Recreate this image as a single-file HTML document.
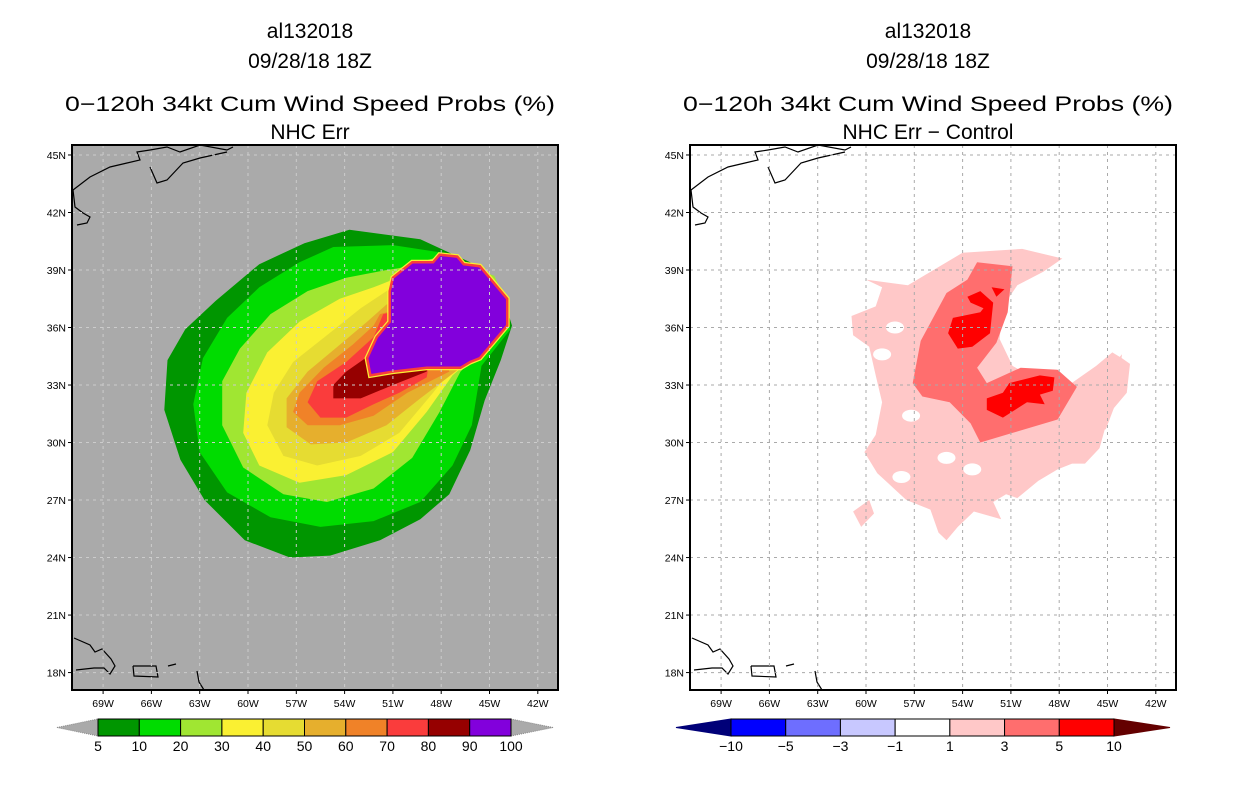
<!DOCTYPE html>
<html><head><meta charset="utf-8"><style>
html,body{margin:0;padding:0;background:#fff;}
svg{display:block;font-family:"Liberation Sans",sans-serif;}
</style></head><body>
<svg id="root" width="1236" height="800" viewBox="0 0 1236 800">
<g id="left"></g>
<g id="right"></g>
</svg>
<script>
// ---- data ----
const lonTicks = [-69,-66,-63,-60,-57,-54,-51,-48,-45,-42];
const latTicks = [18,21,24,27,30,33,36,39,42,45];
const probLevels = ["5","10","20","30","40","50","60","70","80","90","100"];
const probColors = ["#009600","#00dc00","#a0e632","#faf032","#e6dc32","#e6af2d","#f08228","#fa3c3c","#960000","#8200dc"];
const diffLevels = ["-10","-5","-3","-1","1","3","5","10"];
const diffColors = ["#0000ff","#6e6eff","#c8c8ff","#ffffff","#ffc8c8","#ff6e6e","#ff0000"];
// probability contours [lon,lat]
const p5 = [[-53.7,41.1],[-49.3,40.6],[-46.2,39.4],[-44.3,38.0],[-43.6,36.1],[-44.3,34.3],[-45.3,32.2],[-46.2,29.6],[-47.5,27.3],[-49.3,26.0],[-51.8,24.9],[-54.9,24.1],[-57.4,24.0],[-60.2,24.9],[-62.7,27.0],[-64.2,29.1],[-65.2,31.7],[-65.0,34.3],[-63.9,35.9],[-62.0,37.4],[-59.3,39.3],[-56.5,40.4]];
const p10 = [[-56.8,39.4],[-54.7,40.2],[-51.0,40.3],[-47.9,39.9],[-44.3,38.0],[-43.7,35.9],[-45.5,34.0],[-46.1,30.9],[-47.3,28.8],[-49.3,26.9],[-52.2,25.9],[-55.5,25.6],[-58.6,26.1],[-61.3,27.4],[-63.0,29.5],[-63.4,32.0],[-62.8,34.4],[-61.3,36.5],[-59.3,38.1]];
const p20 = [[-50.6,39.1],[-48.1,39.7],[-44.7,38.7],[-43.9,37.2],[-44.3,35.9],[-46.8,33.7],[-48.1,31.6],[-49.8,29.2],[-52.2,27.6],[-55.1,26.9],[-57.8,27.3],[-60.3,28.7],[-61.6,30.9],[-61.6,33.2],[-60.5,34.9],[-58.6,36.7],[-56.3,37.9],[-53.9,38.6],[-51.4,39.0]];
const p30 = [[-51.0,38.5],[-48.7,39.4],[-45.6,39.0],[-44.3,36.9],[-46.2,34.3],[-47.3,33.5],[-48.9,31.6],[-51.0,29.5],[-53.9,28.3],[-56.8,27.9],[-59.3,28.8],[-60.3,30.5],[-60.1,32.6],[-58.8,34.7],[-56.8,36.3],[-54.3,37.5],[-52.2,38.1]];
const p40 = [[-51.4,37.9],[-49.3,38.5],[-46.2,37.4],[-47.5,33.7],[-48.5,32.6],[-50.6,30.5],[-53.0,29.3],[-55.7,28.8],[-57.8,29.3],[-58.8,30.9],[-58.4,32.6],[-57.2,34.2],[-55.1,35.6],[-53.0,37.0]];
const p50 = [[-51.4,37.2],[-48.7,38.0],[-46.8,33.9],[-49.3,32.3],[-51.4,30.9],[-53.9,30.0],[-56.1,29.9],[-57.6,30.8],[-57.6,32.3],[-56.3,33.7],[-54.3,35.1],[-52.6,36.3]];
const p60 = [[-51.8,36.7],[-48.7,37.4],[-47.5,33.7],[-50.1,32.6],[-52.2,31.4],[-54.3,30.9],[-56.3,30.9],[-57.2,31.6],[-56.8,32.6],[-55.3,33.9],[-53.5,35.1],[-52.2,36.1]];
const p70 = [[-51.6,36.7],[-48.1,37.4],[-48.9,33.4],[-50.6,32.6],[-52.2,32.0],[-53.9,31.3],[-55.5,31.3],[-56.3,32.1],[-55.7,33.2],[-53.9,34.2],[-52.2,35.5]];
const p80 = [[-51.2,36.5],[-48.1,37.4],[-48.9,33.7],[-51.0,33.0],[-53.0,32.3],[-54.7,32.3],[-54.7,33.0],[-53.9,33.7],[-52.2,34.7]];
const p90 = [[-51.0,38.6],[-49.8,39.4],[-48.5,39.4],[-48.1,39.8],[-47.0,39.7],[-46.6,39.3],[-45.6,39.2],[-43.9,37.5],[-43.9,36.1],[-45.6,34.4],[-46.2,34.2],[-46.8,33.9],[-48.9,33.9],[-51.0,33.7],[-52.4,33.5],[-52.6,34.4],[-52.0,35.5],[-51.2,36.3],[-51.2,37.9]];
// difference contours [lon,lat]
const d1 = [[-57.4,38.2],[-54.0,39.9],[-50.3,40.1],[-47.8,39.6],[-49.0,38.9],[-50.6,38.2],[-51.5,37.1],[-51.7,35.4],[-50.9,34.0],[-49.4,33.3],[-47.4,33.0],[-45.7,34.0],[-44.7,34.7],[-44.1,34.4],[-43.6,34.1],[-43.8,32.6],[-44.9,31.5],[-45.5,29.7],[-46.4,28.9],[-47.2,28.9],[-48.1,28.6],[-49.3,28.0],[-50.6,27.1],[-51.3,27.3],[-52.1,26.9],[-51.6,26.0],[-53.3,26.4],[-54.3,25.6],[-55.0,24.9],[-55.5,25.3],[-56.0,26.5],[-57.5,27.0],[-59.3,28.4],[-60.1,29.5],[-59.4,30.4],[-59.0,32.1],[-59.4,33.5],[-59.8,35.0],[-60.8,35.6],[-60.9,36.6],[-59.4,37.1],[-59.0,38.1],[-60.0,38.5]];
const d1b = [[-60.8,26.4],[-59.8,27.0],[-59.5,26.3],[-60.3,25.6]];
const d1c = [[-44.7,34.0],[-44.1,34.6],[-44.4,32.5],[-45.4,31.5],[-45.8,30.5],[-45.1,30.7],[-44.6,31.8]];
const d3 = [[-53.1,39.4],[-50.9,39.2],[-51.2,36.8],[-51.9,35.2],[-53.1,33.9],[-52.5,33.1],[-50.4,33.9],[-48.1,33.8],[-46.9,32.9],[-48.1,31.2],[-50.9,30.5],[-52.9,30.0],[-53.5,31.0],[-54.8,32.1],[-56.5,32.4],[-57.1,33.1],[-56.6,35.3],[-55.0,37.8],[-53.7,38.5]];
const d5a = [[-53.7,37.6],[-52.9,37.9],[-52.1,37.3],[-52.3,35.7],[-53.4,35.0],[-54.3,34.9],[-54.9,35.7],[-54.6,36.5],[-52.9,36.8],[-52.7,37.0],[-53.5,37.3]];
const d5b = [[-51.1,33.1],[-49.2,33.5],[-48.3,33.4],[-48.4,32.7],[-49.2,32.5],[-48.9,32.0],[-50.0,32.1],[-51.5,31.3],[-52.5,31.7],[-52.5,32.3],[-51.5,32.6]];
const d5c = [[-52.2,38.1],[-51.4,38.0],[-51.9,37.6]];
const d1holes = [[-57.2,31.4],[-55.0,29.2],[-57.8,28.2],[-53.4,28.6],[-58.2,36.0],[-59.0,34.6]];

// ---- projection ----
const X0=72,X1=558,Y0=145,Y1=690;
function xs(lon,off){return 248+(lon+60)*16.1+off;}
function ys(lat){return 270+(39-lat)*19.17;}
const NS="http://www.w3.org/2000/svg";
function mk(tag,attrs,parent){const e=document.createElementNS(NS,tag);for(const k in attrs)e.setAttribute(k,attrs[k]);parent.appendChild(e);return e;}
function pts(arr,off){return arr.map(p=>xs(p[0],off).toFixed(1)+","+ys(p[1]).toFixed(1)).join(" ");}

function coast(g,off){
  const lines=[
   "73,190 90,177 110,167 127,163 140,160 137,152 150,150 167,147 180,152 200,145 227,150 233,147",
   "150,167 157,183 167,180 183,163 200,158 227,152",
   "73,190 75,207 83,213 90,217 87,223 77,225",
   "74,638 90,645 95,652 102,649 111,659 115,666 110,674 104,668 94,668 76,670",
   "133,666 156,666 158,677 134,676 133,666",
   "168,666 176,664","197,671 199,682 204,690"];
  lines.forEach((l,i)=>{const p=l.split(" ").map(s=>{const a=s.split(",");return (+a[0]+off)+","+a[1];}).join(" ");
   const e=mk("polyline",{points:p,fill:"none",stroke:"#000","stroke-width":1.2},g);
   
   });
}

function panel(g,off,bg,gridColor,titleLines,titleX){
  const clipId="clip"+off;
  const cp=mk("clipPath",{id:clipId},g);mk("rect",{x:X0+off,y:Y0,width:X1-X0,height:Y1-Y0},cp);
  const bgr=mk("rect",{x:X0+off,y:Y0,width:X1-X0,height:Y1-Y0,fill:bg},g);
  
  
  const layer=mk("g",{"clip-path":"url(#"+clipId+")"},g);
  
  
  titleLines.forEach((t,i)=>{
    const ty=[38,68,111,139][i];
    const e=mk("text",{x:titleX,y:ty,"text-anchor":"middle","font-size":21,fill:"#000"},g);
    if(i===2){e.setAttribute("textLength",490);e.setAttribute("lengthAdjust","spacingAndGlyphs");}
    e.textContent=t;
    
    
  });
  return layer;
}
function axes(g,layer,off,gridColor){
  lonTicks.forEach(l=>{const x=xs(l,off);
    const gl=mk("line",{x1:x,x2:x,y1:Y0,y2:Y1,stroke:gridColor,"stroke-width":1,"stroke-dasharray":"3,4"},layer);
    
    
    mk("line",{x1:x,x2:x,y1:Y1,y2:Y1+4,stroke:"#000"},g);
    const t=mk("text",{x:x,y:Y1+17,"text-anchor":"middle","font-size":10.5},g);t.textContent=(-l)+"W";
    
    });
  latTicks.forEach(l=>{const y=ys(l);
    const gl=mk("line",{x1:X0+off,x2:X1+off,y1:y,y2:y,stroke:gridColor,"stroke-width":1,"stroke-dasharray":"3,4"},layer);
    
    
    mk("line",{x1:X0+off-4,x2:X0+off,y1:y,y2:y,stroke:"#000"},g);
    const t=mk("text",{x:X0+off-6,y:y+4,"text-anchor":"end","font-size":10.5},g);t.textContent=l+"N";
    
    });
  const fr=mk("rect",{x:X0+off,y:Y0,width:X1-X0,height:Y1-Y0,fill:"none",stroke:"#000","stroke-width":2},g);
  
  
}
function colorbar(g,x0,x1,colors,labels,lc,rc,lt,rt,dotted){
  const y0=719,y1=736,w=(x1-x0)/colors.length;
  const a=mk("polygon",{points:`${lt},${(y0+y1)/2} ${x0},${y0} ${x0},${y1}`,fill:lc,stroke:dotted?"#888":lc,"stroke-dasharray":dotted?"1,1":"none"},g);
  
  
  const b=mk("polygon",{points:`${rt},${(y0+y1)/2} ${x1},${y0} ${x1},${y1}`,fill:rc,stroke:dotted?"#888":rc,"stroke-dasharray":dotted?"1,1":"none"},g);
  
  
  colors.forEach((c,i)=>{const r=mk("rect",{x:x0+i*w,y:y0,width:w,height:y1-y0,fill:c,stroke:"#000","stroke-width":1},g);
    
    });
  labels.forEach((l,i)=>{const t=mk("text",{x:x0+i*w,y:751,"text-anchor":"middle","font-size":14},g);t.textContent=l.replace("-","\u2212");
    
    });
}

// left panel
const L=document.getElementById("left");
const ll=panel(L,0,"#aaaaaa","#cccccc",["al132018","09/28/18 18Z","0\u2212120h 34kt Cum Wind Speed Probs (%)","NHC Err"],310);
[p5,p10,p20,p30,p40,p50,p60,p70,p80].forEach((poly,i)=>{
  const e=mk("polygon",{points:pts(poly,0),fill:probColors[i],stroke:"none"},ll);
  
  });
{const e0=mk("polygon",{points:pts(p90,0),fill:"none",stroke:"#faf032","stroke-width":5},ll);
 
 
 const e=mk("polygon",{points:pts(p90,0),fill:probColors[9],stroke:"#fa3c3c","stroke-width":2.5},ll);
 
 }
coast(ll,0);
axes(L,ll,0,"#cccccc");
colorbar(L,98,511,probColors,probLevels,"#aaaaaa","#aaaaaa",57,553,true);

// right panel
const R=document.getElementById("right"),OFF=618;
const rl=panel(R,OFF,"#ffffff","#aaaaaa",["al132018","09/28/18 18Z","0\u2212120h 34kt Cum Wind Speed Probs (%)","NHC Err \u2212 Control"],928);
[d1,d1b,d1c].forEach(poly=>{const e=mk("polygon",{points:pts(poly,OFF),fill:diffColors[4]},rl);
 
 });
d1holes.forEach(h=>{const e=mk("ellipse",{cx:xs(h[0],OFF),cy:ys(h[1]),rx:9,ry:6,fill:"#fff"},rl);
 
 });
{const e=mk("polygon",{points:pts(d3,OFF),fill:diffColors[5]},rl);
 
 }
[d5a,d5b,d5c].forEach(poly=>{const e=mk("polygon",{points:pts(poly,OFF),fill:diffColors[6]},rl);
 
 });
coast(rl,OFF);
axes(R,rl,OFF,"#aaaaaa");
colorbar(R,731,1114,diffColors,diffLevels,"#000078","#640000",676,1170,false);
</script>
</body></html>
